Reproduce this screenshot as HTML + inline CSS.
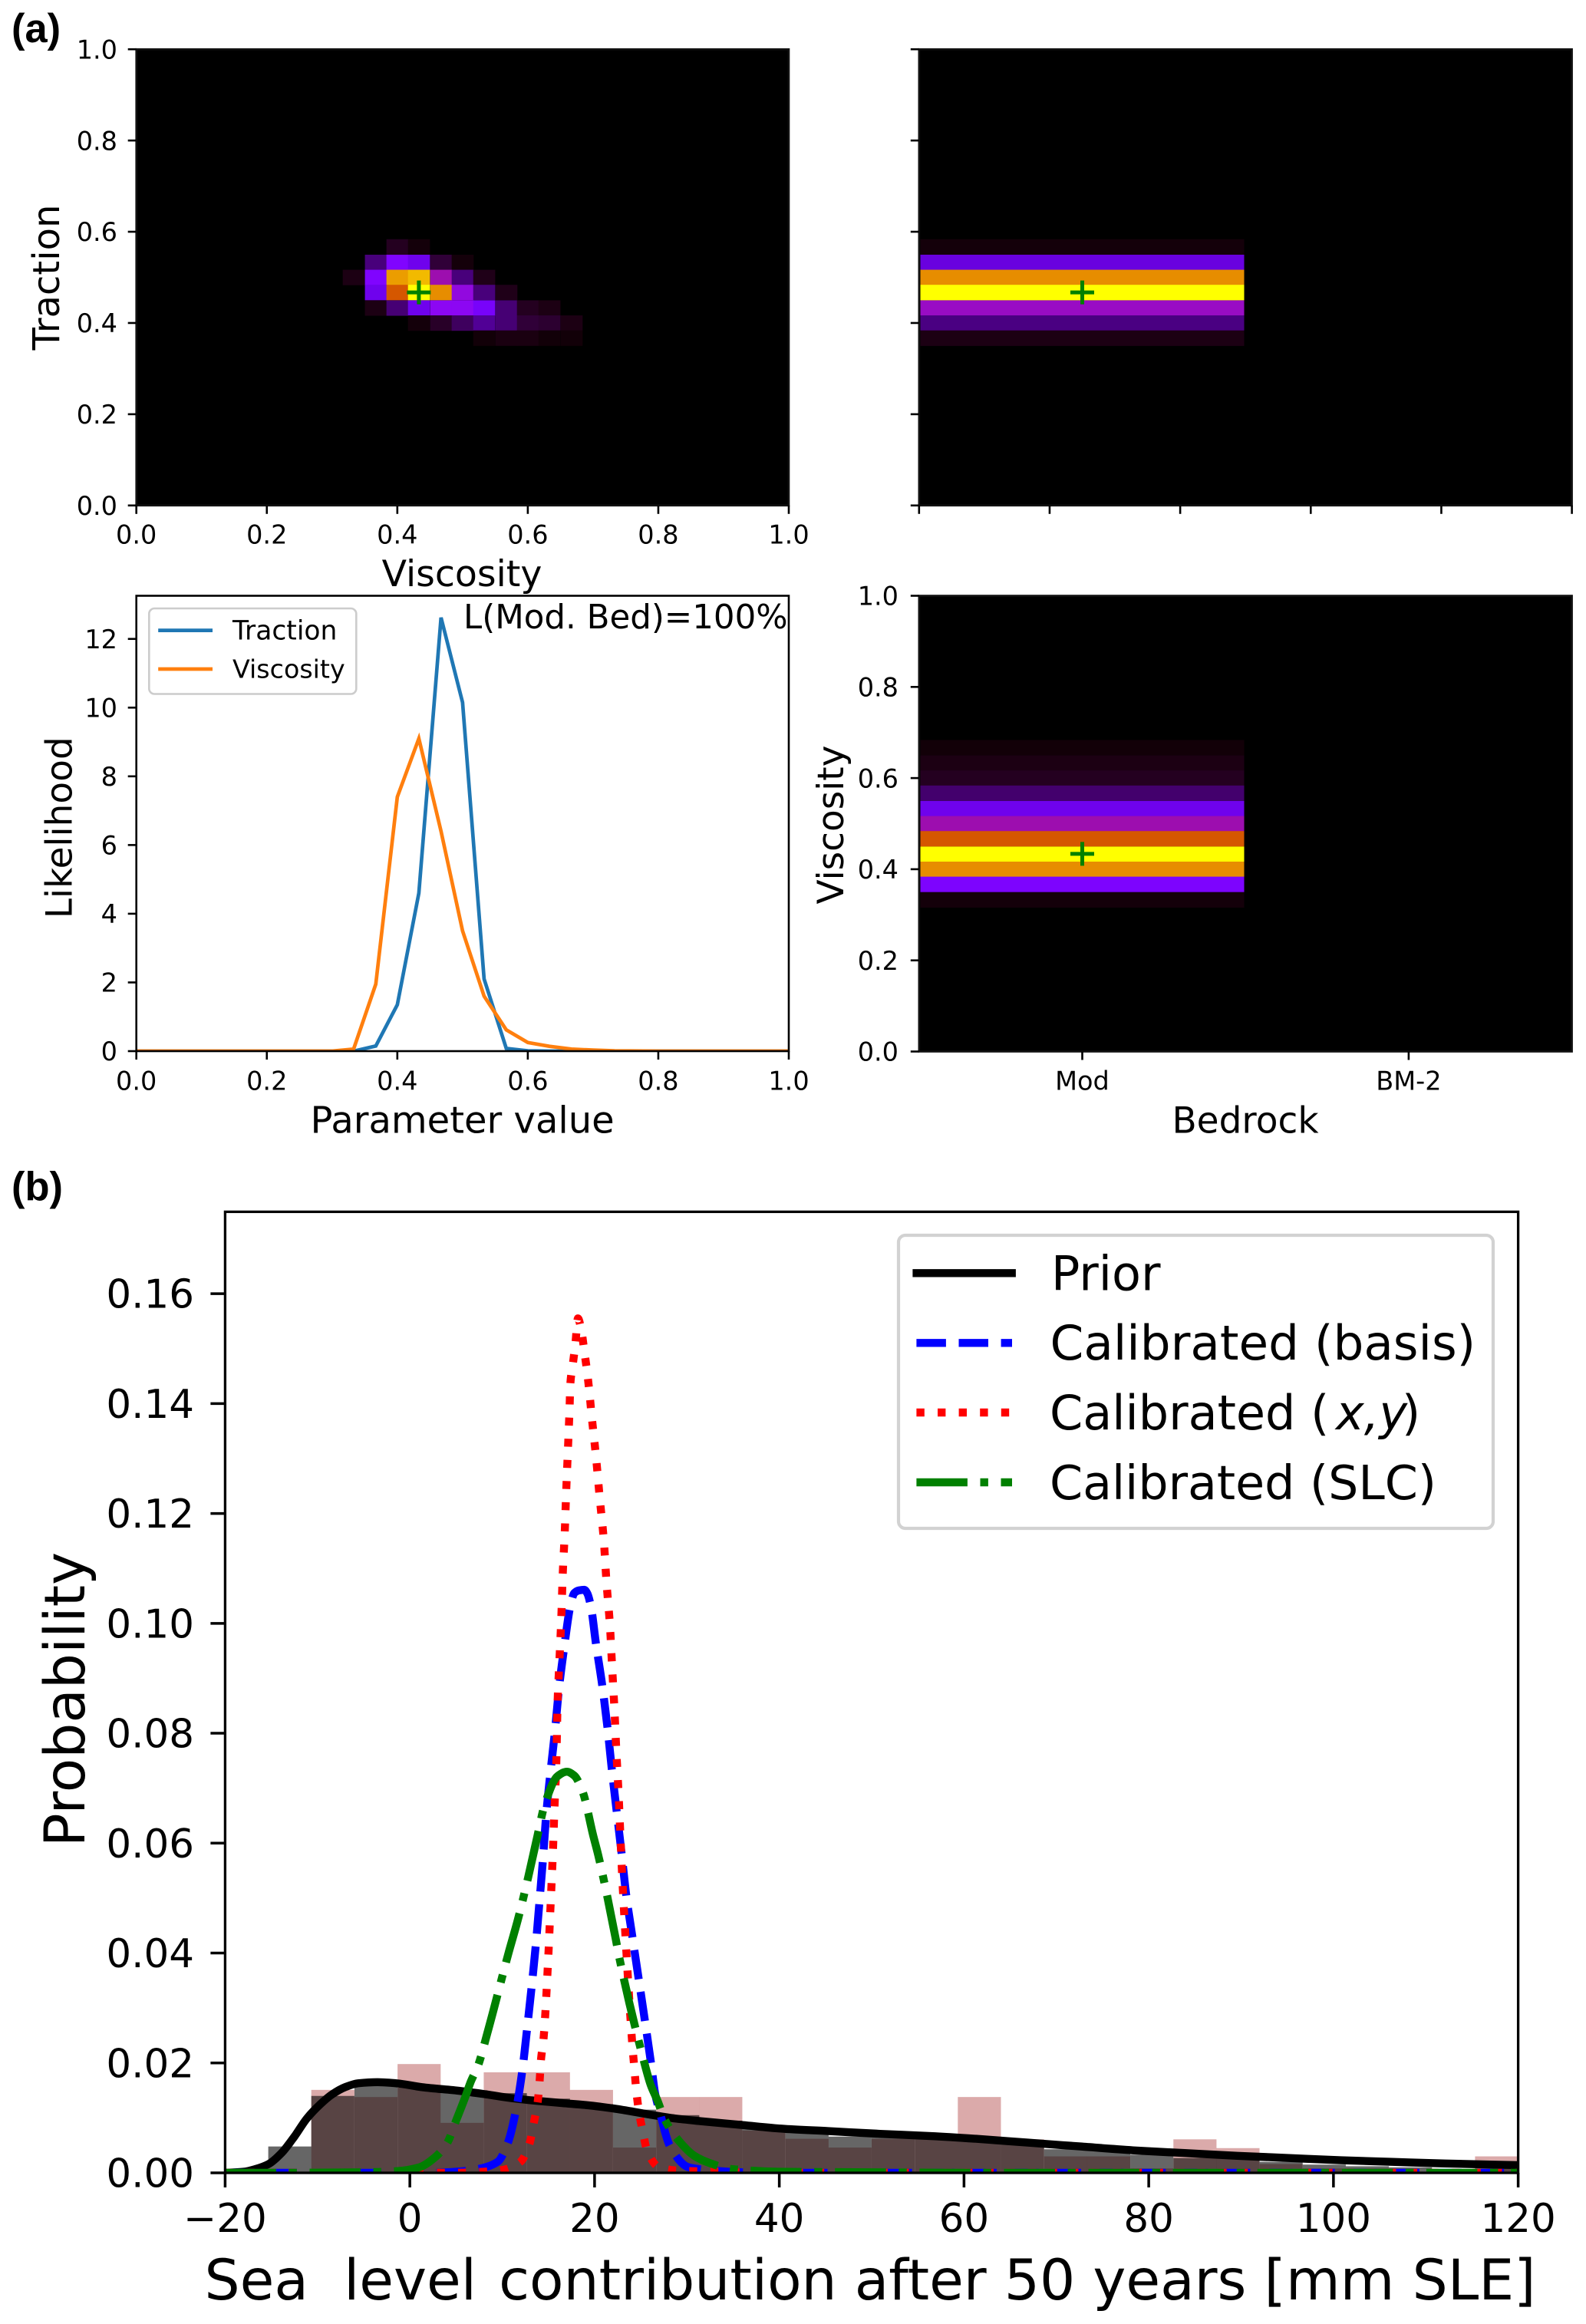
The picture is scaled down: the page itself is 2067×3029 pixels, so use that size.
<!DOCTYPE html>
<html lang="en">
<head>
<meta charset="utf-8">
<title>Likelihood and sea level contribution figure</title>
<style>
html,body{margin:0;padding:0;background:#fff;}
svg{display:block;font-family:"DejaVu Sans","Liberation Sans",sans-serif;fill:#000;}
.tick-label-a{font-size:33.5px;}
.tick-label-b{font-size:51.5px;}
.axis-label-a{font-size:47px;}
.axis-label-b{font-size:72.7px;white-space:pre;}
.legend-a{font-size:33.3px;}
.legend-b{font-size:62px;}
.panel-tag{font-family:"Liberation Sans",sans-serif;font-weight:bold;font-size:52.5px;}
</style>
</head>
<body>
<svg xmlns="http://www.w3.org/2000/svg" width="2067" height="3029" viewBox="0 0 2067 3029">
  <defs>
    <clipPath id="clip-a3"><rect x="177.7" y="776.5" width="850.3" height="593.5"/></clipPath>
    <clipPath id="clip-b"><rect x="293.4" y="1579.4" width="1685.2" height="1252.6"/></clipPath>
  </defs>
  <rect x="0" y="0" width="2067" height="3029" fill="#fff"/>

  <text class="panel-tag" x="15" y="55">(a)</text>
  <text class="panel-tag" x="15" y="1564.5">(b)</text>

  <g id="panel-a1"></g>
  <g id="panel-a2"></g>
  <g id="panel-a3"></g>
  <g id="panel-a4"></g>
  <g id="panel-b"></g>

  <text class="axis-label-a" x="602" y="764" text-anchor="middle" style="font-size:47.4px">Viscosity</text>
  <text class="axis-label-a" transform="translate(77,361.5) rotate(-90)" text-anchor="middle" style="font-size:48px">Traction</text>
  <text class="axis-label-a" x="602.6" y="1476.4" text-anchor="middle" style="font-size:48px">Parameter value</text>
  <text class="axis-label-a" transform="translate(93.3,1078.7) rotate(-90)" text-anchor="middle">Likelihood</text>
  <text class="axis-label-a" x="1623" y="1476.4" text-anchor="middle">Bedrock</text>
  <text class="axis-label-a" transform="translate(1099,1075) rotate(-90)" text-anchor="middle">Viscosity</text>
  <text class="axis-label-b" x="266.5" y="2997">Sea  level <tspan dx="6">contribution after 50 years [mm SLE]</tspan></text>
  <text class="axis-label-b" transform="translate(110,2215) rotate(-90)" text-anchor="middle">Probability</text>

  <text x="604" y="819" style="font-size:43.5px">L(Mod. Bed)=100%</text>

  <g>
    <rect x="194.3" y="793" width="270" height="111.5" rx="7" ry="7" fill="#fff" fill-opacity="0.8" stroke="#ccc" stroke-width="2.6"/>
    <line x1="206.2" x2="277" y1="821.6" y2="821.6" stroke="#1f77b4" stroke-width="4.7"/>
    <text class="legend-a" x="303" y="833.5" style="font-size:34.5px">Traction</text>
    <line x1="206.2" x2="277" y1="872" y2="872" stroke="#ff7f0e" stroke-width="4.7"/>
    <text class="legend-a" x="303" y="883.6">Viscosity</text>
  </g>

  <g>
    <rect x="1171" y="1610" width="775" height="382" rx="9" ry="9" fill="#fff" fill-opacity="0.8" stroke="#d2d2d2" stroke-width="4.2"/>
    <line x1="1194.6" x2="1318.7" y1="1659.3" y2="1659.3" stroke="#000" stroke-width="10.4" stroke-linecap="square"/>
    <text class="legend-b" x="1370" y="1681.7">Prior</text>
    <line x1="1194.4" x2="1319" y1="1750.3" y2="1750.3" stroke="#0000ff" stroke-width="10.4" stroke-dasharray="38.5 16.6"/>
    <text class="legend-b" x="1368.5" y="1772" style="font-size:62.8px">Calibrated (basis)</text>
    <line x1="1194.4" x2="1319" y1="1841" y2="1841" stroke="#ff0000" stroke-width="10.4" stroke-dasharray="10.4 17.2"/>
    <text class="legend-b" x="1368" y="1863">Calibrated (<tspan x="1741" font-style="italic">x,y</tspan><tspan x="1827">)</tspan></text>
    <line x1="1194.4" x2="1319" y1="1932" y2="1932" stroke="#008000" stroke-width="10.4" stroke-dasharray="66.5 16.6 10.4 16.6"/>
    <text class="legend-b" x="1368" y="1954" style="font-size:61.8px">Calibrated (SLC)</text>
  </g>
</svg>

<script>
// ---- Panel (a) tick arrays ----
const unitTicks = [0, 0.2, 0.4, 0.6, 0.8, 1];
const unitTickLabels = ['0.0', '0.2', '0.4', '0.6', '0.8', '1.0'];
const likelihoodTicks = [0, 2, 4, 6, 8, 10, 12];
const likelihoodTickLabels = ['0', '2', '4', '6', '8', '10', '12'];
const bedrockCategories = ['Mod', 'BM-2'];
const bedrockTickPositions = [0.25, 0.75];

// ---- Traction vs viscosity heatmap ----
const a1ViscosityCenters = [0.333, 0.367, 0.4, 0.433, 0.467, 0.5, 0.533, 0.567, 0.6, 0.633, 0.667];
const a1TractionCenters = [0.567, 0.533, 0.5, 0.467, 0.433, 0.4, 0.367];
const a1Row567 = [0, 0, 0.02, 0.006, 0, 0, 0, 0, 0, 0, 0];
const a1Row533 = [0, 0.08, 0.25, 0.19, 0.035, 0.006, 0, 0, 0, 0, 0];
const a1Row500 = [0.012, 0.25, 0.85, 0.9, 0.38, 0.08, 0.015, 0, 0, 0, 0];
const a1Row467 = [0, 0.19, 0.7, 1, 0.82, 0.33, 0.08, 0.015, 0, 0, 0];
const a1Row433 = [0, 0.012, 0.075, 0.19, 0.3, 0.3, 0.22, 0.075, 0.02, 0.012, 0];
const a1Row400 = [0, 0, 0, 0.006, 0.025, 0.06, 0.1, 0.075, 0.035, 0.03, 0.012];
const a1Row367 = [0, 0, 0, 0, 0, 0, 0.005, 0.01, 0.01, 0.005, 0.005];
const a1Best = [0.433, 0.467];

// ---- Traction by bedrock ----
const a2TractionCenters = [0.567, 0.533, 0.5, 0.467, 0.433, 0.4, 0.367];
const a2ModValues = [0.006, 0.17, 0.82, 1, 0.36, 0.085, 0.012];
const a2Best = [0.25, 0.467];

// ---- Viscosity by bedrock ----
const a4ViscosityCenters = [0.667, 0.633, 0.6, 0.567, 0.533, 0.5, 0.467, 0.433, 0.4, 0.367, 0.333];
const a4ModValues = [0.005, 0.012, 0.02, 0.07, 0.19, 0.38, 0.7, 1, 0.82, 0.24, 0.006];
const a4Best = [0.25, 0.4337];
const bedrockBandRange = [0.002, 0.498];

// ---- Likelihood curves ----
const paramValues = [0, 0.3, 0.333, 0.367, 0.4, 0.433, 0.467, 0.5, 0.533, 0.567, 0.6, 0.633, 0.667, 0.7, 0.733, 0.8, 1];
const tractionLikelihood = [0, 0, 0, 0.15, 1.35, 4.6, 12.62, 10.15, 2.1, 0.08, 0.01, 0, 0, 0, 0, 0, 0];
const viscosityLikelihood = [0, 0, 0.06, 1.95, 7.4, 9.1, 6.4, 3.5, 1.6, 0.62, 0.25, 0.14, 0.06, 0.03, 0.01, 0, 0];

// ---- Panel (b) ----
const slcTicks = [-20, 0, 20, 40, 60, 80, 100, 120];
const slcTickLabels = ['\u221220', '0', '20', '40', '60', '80', '100', '120'];
const probTicks = [0, 0.02, 0.04, 0.06, 0.08, 0.1, 0.12, 0.14, 0.16];
const probTickLabels = ['0.00', '0.02', '0.04', '0.06', '0.08', '0.10', '0.12', '0.14', '0.16'];
const histLeftEdges = [-20, -15.33, -10.67, -6, -1.33, 3.33, 8, 12.67, 17.33, 22, 26.67, 31.33, 36, 40.67, 45.33, 50, 54.67, 59.33, 64, 68.67, 73.33, 78, 82.67, 87.33, 92, 96.67, 101.33, 106, 110.67, 115.33];
const histBinWidth = 4.667;
const histBrown = [0, 0, 0.0151, 0.0138, 0.0198, 0.0091, 0.0183, 0.0183, 0.0151, 0.0046, 0.0138, 0.0138, 0.0077, 0.0062, 0.0046, 0.0062, 0.0065, 0.0138, 0.0061, 0.003, 0.003, 0.0008, 0.0061, 0.0045, 0.0016, 0.0008, 0.0008, 0, 0, 0.003];
const histGray = [0, 0.0048, 0.014, 0.016, 0.0155, 0.0146, 0.0145, 0.0135, 0.0125, 0.0115, 0.0105, 0.0095, 0.008, 0.0073, 0.0066, 0.0068, 0.0062, 0.0062, 0.0055, 0.0043, 0.0042, 0.0033, 0.0027, 0.0027, 0.002, 0.0015, 0.0012, 0.001, 0.0006, 0.0008];

const priorX = [-20, -18, -16.7, -15.3, -13.9, -12.5, -11.15, -9.75, -8.4, -7, -5.6, -3.5, -1.45, 1.3, 5.5, 8.2, 11, 13.8, 16.5, 19.3, 22.1, 26, 28.7, 31.5, 36, 40.6, 45.3, 50.9, 56.4, 61.3, 66.9, 72.6, 78.3, 83.9, 89.6, 95.2, 100.8, 106.4, 112.1, 120];
const priorY = [0, 0.0002, 0.0007, 0.0016, 0.0036, 0.0066, 0.0099, 0.0124, 0.0143, 0.0156, 0.0163, 0.0165, 0.0163, 0.0156, 0.0149, 0.0143, 0.0136, 0.0131, 0.0127, 0.0123, 0.0117, 0.0106, 0.0099, 0.0094, 0.0087, 0.008, 0.0076, 0.0071, 0.0067, 0.0062, 0.0055, 0.0048, 0.0041, 0.0036, 0.0031, 0.0027, 0.0023, 0.002, 0.0017, 0.0014];

const basisX = [-20, 2, 5, 7.4, 9.5, 10.6, 11.5, 12.2, 12.6, 13.65, 14.05, 14.4, 14.75, 15.2, 15.7, 16.15, 16.7, 17.37, 17.8, 18.3, 18.9, 19.2, 19.6, 20.15, 20.83, 21.4, 21.87, 22.4, 22.93, 23.43, 24.1, 26.1, 26.57, 27.07, 28.15, 30.2, 32.3, 36, 40, 120];
const basisY = [0, 0, 0.0002, 0.0007, 0.002, 0.0054, 0.0115, 0.0189, 0.0248, 0.0417, 0.0497, 0.0568, 0.0649, 0.0725, 0.0802, 0.0882, 0.0955, 0.1031, 0.1055, 0.106, 0.1061, 0.1055, 0.1031, 0.0963, 0.0887, 0.081, 0.0734, 0.0657, 0.0581, 0.0505, 0.0429, 0.0201, 0.0143, 0.011, 0.0049, 0.001, 0.0005, 0.0001, 0, 0];

const xyX = [-20, 5, 8, 9.96, 11.97, 12.95, 13.42, 13.84, 14.05, 14.2, 14.47, 15, 15.2, 15.5, 15.66, 15.85, 16, 16.2, 16.4, 16.55, 16.77, 16.93, 17.12, 17.3, 17.37, 17.65, 17.93, 18.2, 18.57, 18.9, 19.2, 19.45, 19.67, 20.15, 20.56, 21, 21.3, 21.66, 21.9, 22.15, 22.36, 22.6, 22.8, 23, 23.25, 24.1, 24.3, 24.5, 24.77, 25.2, 25.7, 27, 29.15, 33.7, 38, 120];
const xyY = [0, 0, 0.0002, 0.0005, 0.002, 0.0053, 0.0091, 0.0129, 0.0167, 0.0206, 0.0243, 0.0397, 0.0473, 0.0589, 0.0665, 0.0742, 0.0858, 0.0934, 0.1011, 0.1088, 0.1165, 0.1241, 0.1318, 0.1395, 0.1434, 0.1472, 0.151, 0.1555, 0.1533, 0.1494, 0.1457, 0.1419, 0.138, 0.1304, 0.1228, 0.1151, 0.1073, 0.0997, 0.0921, 0.0844, 0.0767, 0.069, 0.0612, 0.0537, 0.0459, 0.0231, 0.0192, 0.0153, 0.0115, 0.0077, 0.004, 0.001, 0.0004, 0.0002, 0, 0];

const slcX = [-20, -15, -5, -1.45, 1, 2.7, 4.03, 5.05, 6, 6.6, 7.4, 8.4, 10.7, 11.7, 12.8, 13.8, 14.6, 16, 17, 17.8, 18.7, 19.85, 20.4, 21.4, 22.3, 22.65, 25.27, 26.1, 26.8, 27.6, 29.3, 30.8, 32.6, 34.8, 40, 50, 60, 120];
const slcY = [0, 0, 0.0001, 0.0003, 0.001, 0.0028, 0.0054, 0.0097, 0.0138, 0.0166, 0.0196, 0.0255, 0.0401, 0.0461, 0.0537, 0.0612, 0.067, 0.0722, 0.073, 0.0723, 0.0694, 0.0614, 0.0578, 0.0501, 0.0425, 0.0394, 0.0208, 0.0159, 0.0132, 0.0097, 0.0055, 0.0031, 0.0017, 0.0007, 0.0002, 0.0001, 0, 0];

// ---- Helpers ----
const SVG_NS = 'http://www.w3.org/2000/svg';
function mk(parent, tag, attrs, text) {
  const el = document.createElementNS(SVG_NS, tag);
  for (const k in attrs) el.setAttribute(k, attrs[k]);
  if (text !== undefined) el.textContent = text;
  parent.appendChild(el);
  return el;
}
function linearScale(d0, d1, r0, r1) {
  return function (v) { return r0 + (v - d0) / (d1 - d0) * (r1 - r0); };
}
function gnuplotColor(v) {
  const r = Math.sqrt(v);
  const g = v * v * v;
  const b = Math.max(0, Math.sin(2 * Math.PI * v));
  return 'rgb(' + Math.round(r * 255) + ',' + Math.round(g * 255) + ',' + Math.round(b * 255) + ')';
}
function monotonePath(px, py) {
  const n = px.length;
  const s = [];
  for (let i = 0; i < n - 1; i++) s.push((py[i + 1] - py[i]) / (px[i + 1] - px[i]));
  const m = [s[0]];
  for (let i = 1; i < n - 1; i++) {
    const h0 = px[i] - px[i - 1], h1 = px[i + 1] - px[i];
    if (s[i - 1] * s[i] <= 0) m.push(0);
    else m.push(3 * (h0 + h1) / ((2 * h1 + h0) / s[i - 1] + (h1 + 2 * h0) / s[i]));
  }
  m.push(s[n - 2]);
  let d = 'M' + px[0] + ' ' + py[0];
  for (let i = 0; i < n - 1; i++) {
    const h = (px[i + 1] - px[i]) / 3;
    d += 'C' + (px[i] + h) + ' ' + (py[i] + m[i] * h) + ' ' + (px[i + 1] - h) + ' ' + (py[i + 1] - m[i + 1] * h) + ' ' + px[i + 1] + ' ' + py[i + 1];
  }
  return d;
}
function xTicks(g, prefix, scale, values, labels, axisY, len, width, labelClass, labelBase) {
  values.forEach(function (v, i) {
    const t = mk(g, 'line', { x1: scale(v), x2: scale(v), y1: axisY, y2: axisY + len, stroke: '#000', 'stroke-width': width });
    
    
    if (labels) {
      const l = mk(g, 'text', { x: scale(v), y: labelBase, 'text-anchor': 'middle', class: labelClass }, labels[i]);
      
      
    }
  });
}
function yTicks(g, prefix, scale, values, labels, axisX, len, width, labelClass, labelRight, capHalf) {
  values.forEach(function (v, i) {
    const t = mk(g, 'line', { x1: axisX - len, x2: axisX, y1: scale(v), y2: scale(v), stroke: '#000', 'stroke-width': width });
    
    
    if (labels) {
      const l = mk(g, 'text', { x: labelRight, y: scale(v) + capHalf, 'text-anchor': 'end', class: labelClass }, labels[i]);
      
      
    }
  });
}
function plusMarker(g, name, px, py) {
  const m = mk(g, 'path', { d: 'M' + (px - 15.5) + ' ' + py + 'H' + (px + 15.5) + 'M' + px + ' ' + (py - 15.5) + 'V' + (py + 15.5), stroke: '#008000', 'stroke-width': 5, fill: 'none' });
  
  
}
function blackField(g, name, L, T, R, B) {
  const r = mk(g, 'rect', { x: L, y: T, width: R - L, height: B - T, fill: '#000', stroke: '#111', 'stroke-width': 2.6 });
  
  
}
function bandCells(g, prefix, xs, ys, centers, values, halfCell) {
  centers.forEach(function (c, i) {
    const top = ys(c + halfCell);
    const bottom = ys(c - halfCell);
    const cell = mk(g, 'rect', { x: xs(bedrockBandRange[0]), y: top, width: xs(bedrockBandRange[1]) - xs(bedrockBandRange[0]), height: bottom - top + 0.4, fill: gnuplotColor(values[i]) });
    
    
  });
}
const HALF_CELL = 0.01667;

// ---- A1 ----
(function () {
  const g = document.getElementById('panel-a1');
  const L = 177.7, R = 1028, T = 64.2, B = 658.8;
  const xs = linearScale(0, 1, L, R), ys = linearScale(0, 1, B, T);
  blackField(g, 'a1-plot-area', L, T, R, B);
  const rows = [a1Row567, a1Row533, a1Row500, a1Row467, a1Row433, a1Row400, a1Row367];
  rows.forEach(function (row, r) {
    row.forEach(function (value, c) {
      if (value <= 0) return;
      const x0 = xs(a1ViscosityCenters[c] - HALF_CELL), x1 = xs(a1ViscosityCenters[c] + HALF_CELL);
      const y0 = ys(a1TractionCenters[r] + HALF_CELL), y1 = ys(a1TractionCenters[r] - HALF_CELL);
      const cell = mk(g, 'rect', { x: x0, y: y0, width: x1 - x0 + 0.3, height: y1 - y0 + 0.3, fill: gnuplotColor(value) });
      
      
    });
  });
  plusMarker(g, 'a1-best-fit-marker', xs(a1Best[0]), ys(a1Best[1]));
  xTicks(g, 'a1', xs, unitTicks, unitTickLabels, B, 11, 2.6, 'tick-label-a', 708.5);
  yTicks(g, 'a1', ys, unitTicks, unitTickLabels, L, 11, 2.6, 'tick-label-a', 153, 12.2);
})();

// ---- A2 ----
(function () {
  const g = document.getElementById('panel-a2');
  const L = 1197.8, R = 2048.6, T = 64.2, B = 658.8;
  const xs = linearScale(0, 1, L, R), ys = linearScale(0, 1, B, T);
  blackField(g, 'a2-plot-area', L, T, R, B);
  bandCells(g, 'a2', xs, ys, a2TractionCenters, a2ModValues, HALF_CELL);
  plusMarker(g, 'a2-best-fit-marker', xs(a2Best[0]), ys(a2Best[1]));
  xTicks(g, 'a2', xs, unitTicks, null, B, 11, 2.6);
  yTicks(g, 'a2', ys, unitTicks, null, L, 11, 2.6);
})();

// ---- A4 ----
(function () {
  const g = document.getElementById('panel-a4');
  const L = 1197.8, R = 2048.6, T = 776.5, B = 1370.5;
  const xs = linearScale(0, 1, L, R), ys = linearScale(0, 1, B, T);
  blackField(g, 'a4-plot-area', L, T, R, B);
  bandCells(g, 'a4', xs, ys, a4ViscosityCenters, a4ModValues, HALF_CELL);
  plusMarker(g, 'a4-best-fit-marker', xs(a4Best[0]), ys(a4Best[1]));
  xTicks(g, 'a4', xs, bedrockTickPositions, bedrockCategories, B, 11, 2.6, 'tick-label-a', 1420.5);
  yTicks(g, 'a4', ys, unitTicks, unitTickLabels, L, 11, 2.6, 'tick-label-a', 1171, 12.2);
})();

// ---- A3 ----
(function () {
  const g = document.getElementById('panel-a3');
  const L = 177.7, R = 1028, T = 776.5, B = 1370;
  const xs = linearScale(0, 1, L, R), ys = linearScale(0, 13.256, B, T);
  function curve(values, color, name) {
    const pts = paramValues.map(function (p, i) { return xs(p) + ',' + ys(values[i]); }).join(' ');
    const line = mk(g, 'polyline', { points: pts, fill: 'none', stroke: color, 'stroke-width': 4.7, 'clip-path': 'url(#clip-a3)' });
    
    
  }
  curve(tractionLikelihood, '#1f77b4', 'traction-likelihood-line');
  curve(viscosityLikelihood, '#ff7f0e', 'viscosity-likelihood-line');
  const frame = mk(g, 'rect', { x: L, y: T, width: R - L, height: B - T, fill: 'none', stroke: '#000', 'stroke-width': 2.6 });
  
  
  xTicks(g, 'a3', xs, unitTicks, unitTickLabels, B, 11, 2.6, 'tick-label-a', 1420.5);
  yTicks(g, 'a3', ys, likelihoodTicks, likelihoodTickLabels, L, 11, 2.6, 'tick-label-a', 153, 12.2);
})();

// ---- B ----
(function () {
  const g = document.getElementById('panel-b');
  const L = 293.4, R = 1978.6, T = 1579.4, B = 2832;
  const xs = linearScale(-20, 120, L, R), ys = linearScale(0, 0.1749, B, T);
  function bars(values, fill, opacity, name) {
    values.forEach(function (v, i) {
      if (v <= 0) return;
      const x0 = xs(histLeftEdges[i]), x1 = xs(histLeftEdges[i] + histBinWidth);
      const bar = mk(g, 'rect', { x: x0, y: ys(v), width: x1 - x0, height: B - ys(v), fill: fill, 'fill-opacity': opacity });
      
      
    });
  }
  bars(histBrown, '#a52a2a', 0.4, 'histogram-brown-bar');
  bars(histGray, '#000000', 0.6, 'histogram-gray-bar');
  function curve(xv, yv, color, dash, name) {
    const d = monotonePath(xv.map(xs), yv.map(ys));
    const attrs = { d: d, fill: 'none', stroke: color, 'stroke-width': 10.4, 'stroke-linejoin': 'round', 'clip-path': 'url(#clip-b)' };
    if (dash) attrs['stroke-dasharray'] = dash;
    const line = mk(g, 'path', attrs);
    
    
  }
  curve(priorX, priorY, '#000000', null, 'prior-line');
  curve(basisX, basisY, '#0000ff', '38.5 16.6', 'calibrated-basis-line');
  curve(xyX, xyY, '#ff0000', '10.4 17.2', 'calibrated-xy-line');
  curve(slcX, slcY, '#008000', '66.5 16.6 10.4 16.6', 'calibrated-slc-line');
  const frame = mk(g, 'rect', { x: L, y: T, width: R - L, height: B - T, fill: 'none', stroke: '#000', 'stroke-width': 3.3 });
  
  
  xTicks(g, 'b', xs, slcTicks, slcTickLabels, B, 19, 3.5, 'tick-label-b', 2909);
  yTicks(g, 'b', ys, probTicks, probTickLabels, L, 19, 3.5, 'tick-label-b', 253, 18.6);
})();
</script>
</body>
</html>
